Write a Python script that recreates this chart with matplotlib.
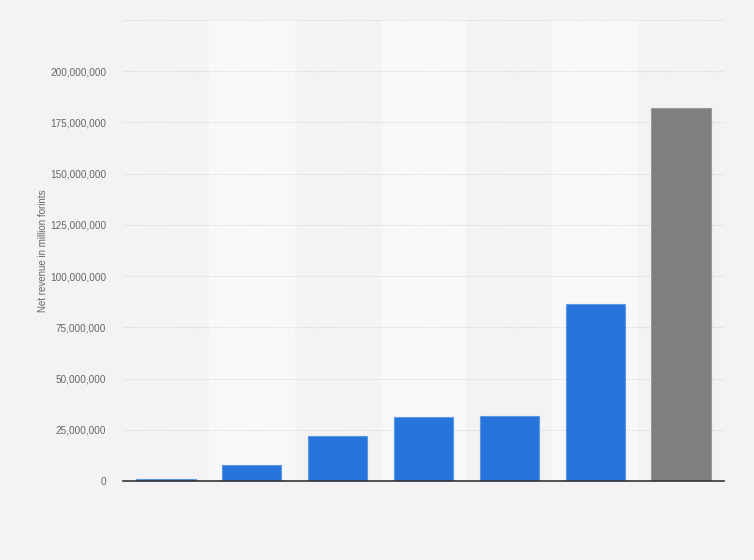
import matplotlib.pyplot as plt
from matplotlib.ticker import FuncFormatter

plt.rcParams['font.family'] = ['Liberation Sans', 'DejaVu Sans']

# bar order as in the chart (no x labels shown in the source)
categories = ['1', '2', '3', '4', '5', '6', '7']
revenue = [0.8e6, 8.0e6, 22.1e6, 31.4e6, 31.9e6, 86.5e6, 182.0e6]
bar_colors = ['#2775db'] * 6 + ['#7f7f7f']
edge_colors = ['#5d98e6'] * 6 + ['#999999']

fig = plt.figure(figsize=(7.54, 5.6), dpi=100)
fig.patch.set_facecolor('#f3f3f3')
ax = fig.add_axes([0.1631, 0.1411, 0.7971, 0.8232])
ax.set_facecolor('#f3f3f3')

x = range(len(categories))
for i in x:
    if i % 2 == 1:
        ax.axvspan(i - 0.5, i + 0.5, color='#f8f8f8', zorder=0, lw=0)

ax.bar(x, revenue, width=0.69, color=bar_colors, edgecolor=edge_colors, linewidth=0.8, zorder=3)

ax.set_xlim(-0.5, len(categories) - 0.5)
ax.set_ylim(0, 225e6)
ax.set_yticks([i * 25e6 for i in range(9)])
ax.yaxis.set_major_formatter(FuncFormatter(lambda v, p: f'{int(v):,}'))
ax.set_xticks([])
ax.grid(axis='y', color='#d4d4d4', linestyle=(0, (1, 1.5)), linewidth=0.8, zorder=1)
ax.axhline(225e6, color='#d4d4d4', linestyle=(0, (1, 1.5)), linewidth=0.8, zorder=1)
ax.tick_params(axis='y', length=0, labelsize=7.2, labelcolor='#666666', pad=12)
for s in ['top', 'right', 'left']:
    ax.spines[s].set_visible(False)
ax.spines['bottom'].set_color('#333333')
ax.spines['bottom'].set_linewidth(1.2)
ax.spines['bottom'].set_zorder(4)

ax.set_ylabel('Net revenue in million forints', fontsize=7, color='#666666')
ax.yaxis.set_label_coords(-0.125, 0.5)

fig.savefig('out.png', dpi=100, facecolor=fig.get_facecolor())
